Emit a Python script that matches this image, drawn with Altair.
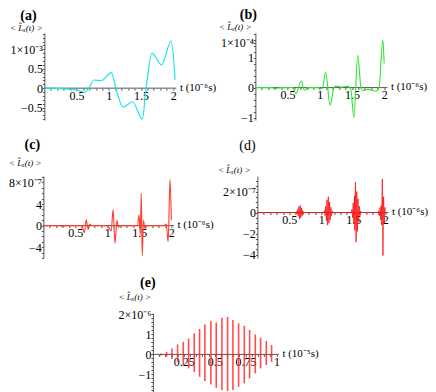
import altair as alt
import pandas as pd

FONT = "Liberation Serif"
AX = "#555555"

# ---------------- data (t in 10^-6 s or 10^-5 s; values in the axis' power of ten)
# (a)  <L_x(t)>  x 1e-3
A_T = [0, 0.15, 0.30, 0.45, 0.55, 0.62, 0.69, 0.77, 0.88, 1.04, 1.11, 1.22, 1.37, 1.52, 1.58, 1.67, 1.82, 1.97, 2.03]
A_V = [0, 0.00, -0.02, -0.04, -0.07, -0.11, 0.00, 0.21, 0.19, 0.40, 0.00, -0.49, -0.35, -0.80, 0.00, 0.90, 0.60, 1.22, 0.22]

# (b)  x 1e-4
B_T = [0, 0.25, 0.32, 0.40, 0.58, 0.63, 0.71, 0.76, 0.81, 0.97, 1.04, 1.09, 1.16, 1.22, 1.25, 1.32, 1.43,
       1.48, 1.53, 1.59, 1.64, 1.67, 1.75, 1.87, 1.92, 1.98, 2.00]
B_V = [0, 0.00, -0.03, 0.00, 0.00, -0.20, 0.22, -0.09, 0.00, 0.00, -0.04, 0.52, -0.59, 0.00, 0.05, 0.02, 0.04,
       -0.03, -1.00, 1.08, 0.00, -0.10, -0.06, -0.12, 0.00, 1.58, 0.80]

# (c)  x 1e-7
C_T = [0, 0.25, 0.30, 0.35, 0.60, 0.64, 0.67, 0.70, 0.725, 0.75,
       1.00, 1.06, 1.09, 1.12, 1.15, 1.17, 1.20,
       1.47, 1.495, 1.515, 1.53, 1.545, 1.565, 1.585, 1.61,
       1.88, 1.92, 1.95, 1.98, 2.00]
C_V = [0, 0, -0.15, 0, 0, -1.3, 1.1, -0.7, 0.3, 0,
       0, -1.0, 3.0, -3.3, 1.0, -0.3, 0,
       0, 2.0, -1.7, 6.0, -5.6, 1.0, -0.5, 0,
       0, 0.3, -3.0, 8.6, 1.0]

# (d)  x 1e-7
D_T = [0, 0.18, 0.195, 0.205, 0.215, 0.225, 0.24,
       0.60, 0.61, 0.62, 0.63, 0.64, 0.65, 0.66, 0.67, 0.68, 0.69, 0.70, 0.71, 0.72, 0.73,
       1.04, 1.05, 1.06, 1.07, 1.08, 1.09, 1.10, 1.11, 1.12, 1.13, 1.14, 1.15, 1.16, 1.17, 1.18,
       1.47, 1.48, 1.49, 1.50, 1.51, 1.52, 1.525, 1.535, 1.545, 1.555, 1.565, 1.575, 1.585, 1.595, 1.605, 1.615, 1.625,
       1.89, 1.90, 1.91, 1.92, 1.93, 1.94, 1.945, 1.955, 1.965, 1.975, 1.985, 1.995, 2.00]
D_V = [0, 0, 0.05, -0.05, 0.05, -0.03, 0,
       0, 0.1, -0.15, 0.3, -0.35, 0.55, -0.6, 0.7, -0.5, 0.45, -0.3, 0.2, -0.1, 0,
       0, 0.2, -0.3, 0.6, -0.8, 1.2, -1.2, 1.5, -1.0, 1.0, -0.7, 0.5, -0.3, 0.15, 0,
       0, 0.3, -0.5, 0.9, -1.1, 1.6, -1.7, 2.9, -2.8, 2.0, -1.8, 1.3, -0.9, 0.6, -0.3, 0.15, 0,
       0, 0.15, -0.3, 0.5, -0.7, 0.7, -1.2, 3.2, -4.1, 1.5, -1.0, 0.5, 0]

# (e)  x 1e-6, t in 10^-5 s : one spike per oscillation
E_T = [0.065, 0.111, 0.154, 0.200, 0.246, 0.289, 0.335, 0.378, 0.421, 0.470, 0.513,
       0.559, 0.605, 0.648, 0.694, 0.740, 0.783, 0.829, 0.872, 0.918, 0.961]
E_TOP = [0.05, 0.13, 0.30, 0.50, 0.63, 0.80, 1.05, 1.27, 1.50, 1.67, 1.60,
         1.83, 1.88, 1.72, 1.55, 1.43, 1.22, 1.00, 0.83, 0.67, 0.47]
E_BOT = [-0.07, -0.12, -0.23, -0.37, -0.53, -0.70, -0.87, -1.12, -1.33, -1.50, -1.67,
         -1.78, -1.83, -1.78, -1.62, -1.45, -1.20, -0.95, -0.70, -0.53, -0.37]

# ---------------- tick positions (major ones are labelled)
X_TICKS_6 = [round(0.1 * i, 2) for i in range(1, 21)]          # minor every 0.1, labels at 0.5 steps
X_TICKS_5 = [round(0.05 * i, 2) for i in range(1, 21)]         # minor every 0.05, labels at 0.25 steps
Y_TICKS_A = [-0.8, -0.7, -0.6, -0.5, -0.4, -0.3, -0.2, -0.1, 0, 0.1, 0.2, 0.3, 0.4, 0.5,
             0.6, 0.7, 0.8, 0.9, 1.0, 1.1, 1.2, 1.3, 1.4]
Y_TICKS_B = [-1.0, -0.8, -0.6, -0.4, -0.2, 0, 0.2, 0.4, 0.6, 0.8, 1.0, 1.2, 1.4, 1.5, 1.6, 1.8]
Y_TICKS_C = [-6, -5, -4, -3, -2, -1, 0, 1, 2, 3, 4, 5, 6, 7, 8, 9]
Y_TICKS_D = [-4, -3.5, -3, -2.5, -2, -1.5, -1, -0.5, 0, 0.5, 1, 1.5, 2, 2.5, 3]
Y_TICKS_E = [-1.8, -1.6, -1.4, -1.2, -1.0, -0.8, -0.6, -0.4, -0.2, 0, 0.2, 0.4, 0.6, 0.8,
             1.0, 1.2, 1.4, 1.6, 1.8, 2.0]

YTITLE = "< L̂ₓ(t) >"


def make_axes(W, H, xdom, ydom, xend, xvals, xstep, xtitle, yvals, ymajor, ytop_val, ytop_text, ytx, yty):
    ppu = W / (xdom[1] - xdom[0])
    y0 = ydom[1] / (ydom[1] - ydom[0]) * H
    xlab = (f"abs(datum.value / {xstep} - round(datum.value / {xstep})) < 0.001 "
            f"? format(datum.value, '~g') : ''")
    ylab = (f"abs(datum.value - {ytop_val}) < 0.001 ? '{ytop_text}' : "
            f"(indexof({ymajor}, datum.value) >= 0 ? format(datum.value, '~g') : '')")
    xa = alt.Axis(values=xvals, labelExpr=xlab, title=xtitle,
                  titleX=xend * ppu + 3, titleY=-1,
                  titleAlign="left", titleBaseline="middle", titleAngle=0,
                  titleFont=FONT, titleFontSize=11, titleFontWeight="normal",
                  labelFont=FONT, labelFontSize=12, labelPadding=0, labelColor="black",
                  labelOverlap=False, labelFlush=False, domain=False,
                  tickSize=2, tickColor=AX, grid=False, offset=-(H - y0))
    ya = alt.Axis(values=yvals, labelExpr=ylab,
                  title=YTITLE, titleX=ytx, titleY=yty, titleAngle=0,
                  titleAlign="left", titleBaseline="middle",
                  titleFont=FONT, titleFontSize=9, titleFontStyle="italic", titleFontWeight="normal",
                  labelFont=FONT, labelFontSize=12, labelPadding=0, labelColor="black",
                  labelOverlap=False, labelFlush=False,
                  tickSize=2, tickColor=AX, domainColor=AX, grid=False)
    xs = alt.Scale(domain=xdom, nice=False, zero=False)
    ys = alt.Scale(domain=ydom, nice=False, zero=False)
    return xs, ys, xa, ya


def titled(label, dx, offset, weight):
    return alt.TitleParams(text=label, anchor="start", align="center", dx=dx, offset=offset,
                           font=FONT, fontSize=14, fontWeight=weight, frame="group", color="black")


def axis_line(xend, xs, ys, xa, ya):
    df = pd.DataFrame({"t": [0.0], "t2": [xend], "v": [0.0]})
    return alt.Chart(df).mark_rule(color=AX, strokeWidth=1).encode(
        x=alt.X("t:Q", scale=xs, axis=xa), x2="t2:Q",
        y=alt.Y("v:Q", scale=ys, axis=ya))


def line_panel(T, V, color, W, H, xdom, ydom, xend, yvals, ymajor, ytop_val, ytop_text,
               ytx, yty, label, tdx, toff, weight, interp, sw):
    xs, ys, xa, ya = make_axes(W, H, xdom, ydom, xend, X_TICKS_6, 0.5, "t (10⁻⁶s)",
                               yvals, ymajor, ytop_val, ytop_text, ytx, yty)
    df = pd.DataFrame({"t": T, "v": V})
    curve = alt.Chart(df).mark_line(color=color, strokeWidth=sw, interpolate=interp, clip=True).encode(
        x=alt.X("t:Q", scale=xs, axis=xa),
        y=alt.Y("v:Q", scale=ys, axis=ya))
    return alt.layer(axis_line(xend, xs, ys, xa, ya), curve).properties(
        width=W, height=H, title=titled(label, tdx, toff, weight))


pa = line_panel(A_T, A_V, "#19e6ee", 132, 87, [0, 2.05], [-0.82, 1.42], 2.05,
                Y_TICKS_A, [-0.5, 0, 0.5], 1, "1×10⁻³", -35, -6, "(a)", -16, 0.5, "bold",
                "monotone", 1.2)
pb = line_panel(B_T, B_V, "#2ae82a", 132, 87, [0, 2.05], [-1.08, 1.82], 2.05,
                Y_TICKS_B, [-1, 0, 1], 1.5, "1×10⁻⁴", -37, -7, "(b)", -7, 0, "bold",
                "monotone", 1.1)
pc = line_panel(C_T, C_V, "#ff3a2a", 135, 82, [0, 2.11], [-6.0, 9.2], 2.04,
                Y_TICKS_C, [-4, 0, 4], 8, "8×10⁻⁷", -35, -14, "(c)", -11, 6.2, "bold",
                "monotone", 1.1)
pd_ = line_panel(D_T, D_V, "#ff1010", 131, 82, [0, 2.05], [-4.33, 3.48], 2.05,
                 Y_TICKS_D, [-4, -2, 0], 2, "2×10⁻⁷", -40, -7, "(d)", -10, 11.6, "normal",
                 "linear", 0.8)

# (e)
W_E, H_E, XD_E, YD_E, XEND_E = 126, 79, [0, 1.02], [-1.88, 2.07], 1.02
xs_e, ys_e, xa_e, ya_e = make_axes(W_E, H_E, XD_E, YD_E, XEND_E, X_TICKS_5, 0.25, "t (10⁻⁵s)",
                                   Y_TICKS_E, [-1, 0, 1], 2, "2×10⁻⁶", -35, -17)
dfe = pd.DataFrame({"t": E_T, "top": E_TOP, "bot": E_BOT})
spikes = alt.Chart(dfe).mark_rule(color="#ff2020", strokeWidth=1.6, opacity=0.8).encode(
    x=alt.X("t:Q", scale=xs_e, axis=xa_e),
    y=alt.Y("top:Q", scale=ys_e, axis=ya_e),
    y2="bot:Q")
pe = alt.layer(axis_line(XEND_E, xs_e, ys_e, xa_e, ya_e), spikes).properties(
    width=W_E, height=H_E, title=titled("(e)", -5, 2.1, "bold"))

row1 = alt.hconcat(pa, pb, spacing=79, bounds="flush")
row2 = alt.hconcat(pc, pd_, spacing=79, bounds="flush")
chart = alt.vconcat(row1, row2, pe, spacing=11, center=True).properties(
    padding=0, background="white"
).configure_view(stroke=None)

chart.save("out.html", embed_options={"renderer": "svg", "actions": False})
